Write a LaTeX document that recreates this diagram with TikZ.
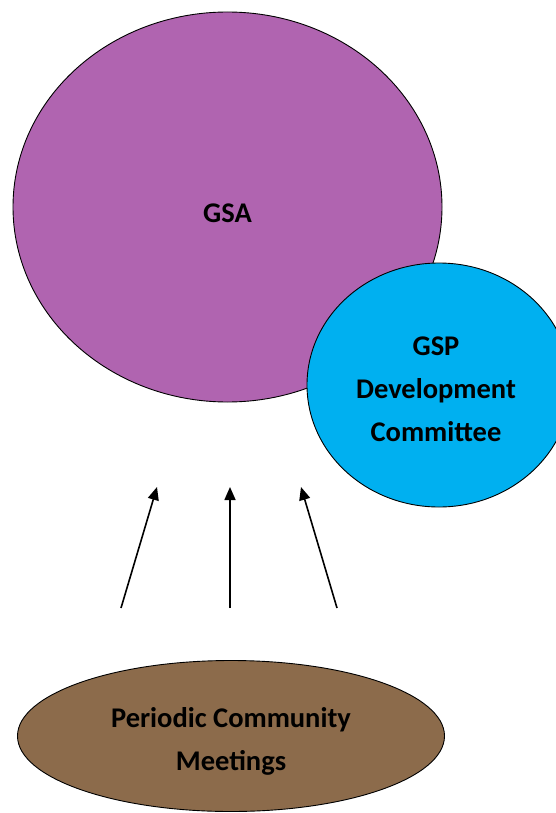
\documentclass[tikz,border=0pt]{standalone}
\usepackage{fontspec}
\setmainfont{Carlito}
\usetikzlibrary{shapes.geometric,arrows.meta}
\definecolor{gsapurple}{RGB}{176,100,176}
\definecolor{gspblue}{RGB}{0,176,240}
\definecolor{meetbrown}{RGB}{140,107,75}
\tikzset{
  blob/.style={ellipse, draw=black, line width=0.9pt, inner sep=0pt},
  lbl/.style={align=center, inner sep=0pt, font=\fontsize{28.5}{43}\selectfont\bfseries, text=black},
  upflow/.style={line width=1.6pt, -{Triangle[length=13pt,width=11pt]}}
}
\begin{document}
\begin{tikzpicture}[x=1pt,y=-1pt]
\useasboundingbox (0,0) rectangle (556,813);
\clip (0,0) rectangle (556,813);
\fill[white] (0,0) rectangle (556,813);
\node[blob, fill=gsapurple, minimum width=429pt, minimum height=390pt] (gsa) at (227.5,207) {};
\node[lbl] (gsat) at ([yshift=-6pt]gsa.center) {GSA};
\node[blob, fill=gspblue, minimum width=264pt, minimum height=244pt] (gsp) at (439,385) {};
\node[lbl] (gspt) at ([xshift=-3pt,yshift=-4pt]gsp.center) {GSP\\Development\\Committee};
\node[blob, fill=meetbrown, minimum width=427pt, minimum height=151pt] (pcm) at (231,736) {};
\node[lbl] (pcmt) at ([yshift=-5pt]pcm.center) {Periodic Community\\Meetings};
\coordinate (s1) at (121,608);
\coordinate (e1) at (157,487);
\coordinate (s2) at (230,608);
\coordinate (e2) at (230,487);
\coordinate (s3) at (337,608);
\coordinate (e3) at (301,487);
\draw[upflow] (s1) -- (e1);
\draw[upflow] (s2) -- (e2);
\draw[upflow] (s3) -- (e3);
\end{tikzpicture}
\end{document}
